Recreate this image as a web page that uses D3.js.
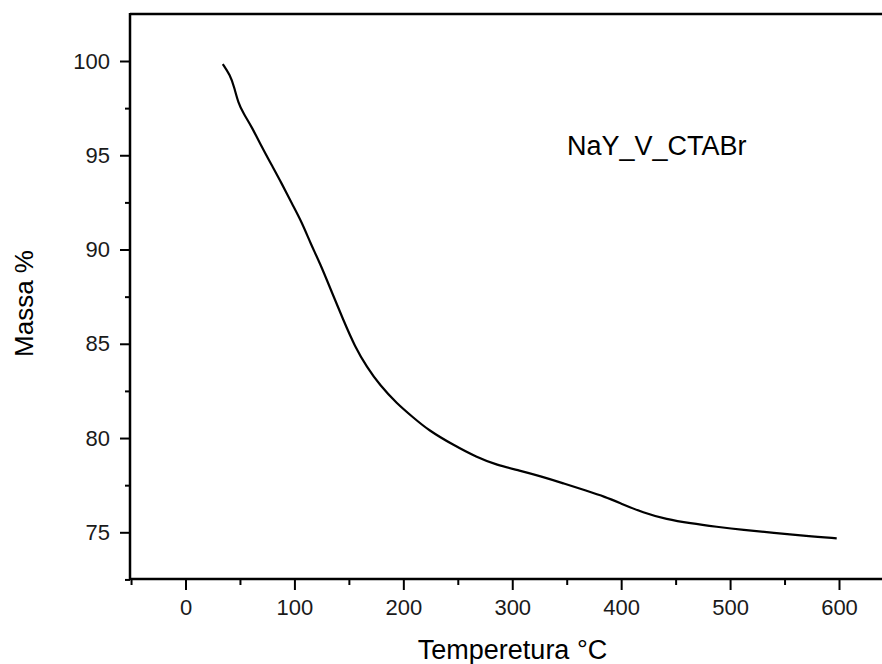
<!DOCTYPE html>
<html>
<head>
<meta charset="utf-8">
<script src="https://cdn.jsdelivr.net/npm/d3@7"></script>
<style>
  html, body { margin: 0; padding: 0; background: #fff; }
  svg { display: block; font-family: "Liberation Sans", Arial, sans-serif; }
</style>
</head>
<body>
<svg id="chart" width="882" height="664"></svg>
<script>
// Data (TGA curve)
const temperature = [34.2, 40.9, 44.6, 48.5, 53.1, 60.8, 70.0, 79.1, 88.3, 97.5, 106.7, 115.0, 123.5, 134.2, 144.9, 155.6, 166.4, 178.6, 193.9, 209.1, 222.9, 245.9, 267.4, 285.7, 307.1, 325.5, 346.9, 368.3, 385.2, 398.9, 420.3, 441.8, 463.2, 487.7, 512.1, 539.7, 570.3, 597.9];
const mass = [99.84, 99.26, 98.64, 97.76, 97.23, 96.51, 95.45, 94.48, 93.51, 92.45, 91.46, 90.3, 89.27, 87.76, 86.26, 84.84, 83.78, 82.79, 81.84, 81.09, 80.42, 79.63, 78.98, 78.57, 78.27, 77.98, 77.60, 77.20, 76.88, 76.55, 76.04, 75.69, 75.48, 75.29, 75.12, 74.98, 74.80, 74.68];
const xTicks = [0, 100, 200, 300, 400, 500, 600];
const xMinorTicks = [-50, 50, 150, 250, 350, 450, 550];
const yTicks = [75, 80, 85, 90, 95, 100];
const yMinorTicks = [72.5, 77.5, 82.5, 87.5, 92.5, 97.5];
const xLabel = "Temperetura °C";
const yLabel = "Massa %";
const seriesLabel = "NaY_V_CTABr";

const svg = d3.select("#chart");
const mLeft = 130, mTop = 14, mBottom = 579, mRight = 900;

const x = d3.scaleLinear().domain([0, 600]).range([185.5, 839]);
const y = d3.scaleLinear().domain([75, 100]).range([532.3, 61]);

// Axes
const xAxis = d3.axisBottom(x).tickValues(xTicks).tickSize(11).tickPadding(9).tickFormat(d3.format("d"));
const xAxisMinor = d3.axisBottom(x).tickValues(xMinorTicks).tickSize(6).tickFormat("");
const yAxis = d3.axisLeft(y).tickValues(yTicks).tickSize(10).tickPadding(10).tickFormat(d3.format("d"));
const yAxisMinor = d3.axisLeft(y).tickValues(yMinorTicks).tickSize(5).tickFormat("");

function styleAxis(g) {
  g.select(".domain").remove();
  g.selectAll(".tick line").attr("stroke", "#000").attr("stroke-width", 2);
  g.selectAll(".tick text").attr("fill", "#1a1a1a").style("font-size", "22px")
    .style("font-family", '"Liberation Sans", Arial, sans-serif');
}

svg.append("g").attr("transform", `translate(0,${mBottom})`).call(xAxis).call(styleAxis);
svg.append("g").attr("transform", `translate(0,${mBottom})`).call(xAxisMinor).call(styleAxis);
svg.append("g").attr("transform", `translate(${mLeft},0)`).call(yAxis).call(styleAxis);
svg.append("g").attr("transform", `translate(${mLeft},0)`).call(yAxisMinor).call(styleAxis);

// Frame lines
svg.append("line").attr("x1", mLeft).attr("x2", mRight).attr("y1", mTop).attr("y2", mTop)
  .attr("stroke", "#000").attr("stroke-width", 2.5);
svg.append("line").attr("x1", mLeft).attr("x2", mRight).attr("y1", mBottom).attr("y2", mBottom)
  .attr("stroke", "#000").attr("stroke-width", 2.5);
svg.append("line").attr("x1", mLeft).attr("x2", mLeft).attr("y1", mTop - 1).attr("y2", mBottom + 1)
  .attr("stroke", "#000").attr("stroke-width", 2.5);

// Curve
const line = d3.line().x((d, i) => x(temperature[i])).y((d, i) => y(mass[i])).curve(d3.curveBasis);
svg.append("path").datum(mass).attr("d", line)
  .attr("fill", "none").attr("stroke", "#000").attr("stroke-width", 2.2);

// Labels
svg.append("text").attr("x", 567).attr("y", 155).text(seriesLabel)
  .style("font-size", "27px").attr("fill", "#000");
svg.append("text").attr("x", 512.5).attr("y", 659).attr("text-anchor", "middle").text(xLabel)
  .style("font-size", "27px").attr("fill", "#000");
svg.append("text").attr("transform", "translate(33,303.5) rotate(-90)").attr("text-anchor", "middle").text(yLabel)
  .style("font-size", "26px").attr("fill", "#000");
</script>
</body>
</html>
